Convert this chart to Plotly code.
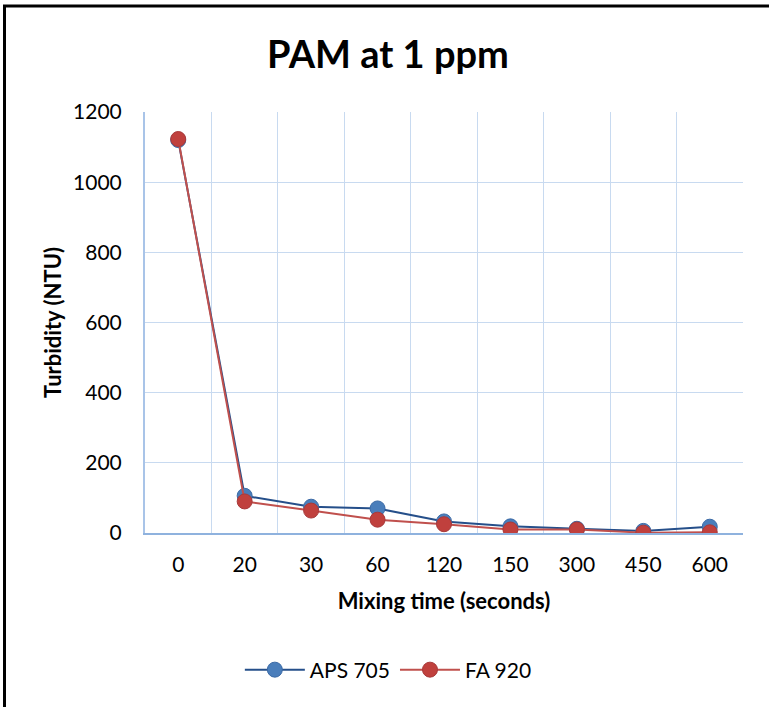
import plotly.graph_objects as go

categories = ["0", "20", "30", "60", "120", "150", "300", "450", "600"]
aps_705 = [1120, 106, 75, 70, 33, 19, 12, 6, 18]
fa_920 = [1123, 90, 64, 38, 25, 10, 10, 1, 2]
y_ticks = [0, 200, 400, 600, 800, 1000, 1200]

FONT = "Lato, Carlito, Calibri, sans-serif"
GRID = "#c8daf0"

fig = go.Figure()
fig.add_trace(go.Scatter(
    x=categories, y=aps_705, name="APS 705", mode="lines+markers",
    line=dict(color="#254f8a", width=2),
    marker=dict(size=15, color="#4a7ebb", line=dict(color="#3b6aa6", width=1)),
))
fig.add_trace(go.Scatter(
    x=categories, y=fa_920, name="FA 920", mode="lines+markers",
    line=dict(color="#c0504d", width=2),
    marker=dict(size=15, color="#c0403d", line=dict(color="#a8393a", width=1)),
))

fig.update_layout(
    width=769, height=707,
    margin=dict(l=145, r=26, t=112, b=174),
    paper_bgcolor="white", plot_bgcolor="white",
    font=dict(family=FONT, size=20, color="black"),
    title=dict(text="<b>PAM at 1 ppm</b>", x=1 - 381 / 769, xref="container", xanchor="center",
               y=1 - 55 / 707, yref="container", yanchor="middle",
               font=dict(family=FONT, size=38, color="black")),
    showlegend=True,
    legend=dict(orientation="h", xref="container", yref="container",
                x=0.505, xanchor="center", y=1 - 670 / 707, yanchor="middle",
                font=dict(family=FONT, size=21), itemwidth=60, tracegroupgap=0),
    xaxis=dict(
        type="category", categoryorder="array", categoryarray=categories,
        range=[-0.5, len(categories) - 0.5],
        tickson="boundaries", showgrid=True, gridcolor=GRID, gridwidth=1,
        showline=True, linecolor="#8fb2de", linewidth=2,
        ticks="", ticklabelstandoff=12,
        tickfont=dict(family=FONT, size=21),
        title=dict(text="<b>Mixing time (seconds)</b>", standoff=18,
                   font=dict(family=FONT, size=22)),
        zeroline=False,
    ),
    yaxis=dict(
        range=[0, 1200], tickvals=y_ticks,
        showgrid=True, gridcolor=GRID, gridwidth=1,
        showline=True, linecolor="#a9c4e8", linewidth=2,
        ticks="", ticklabelstandoff=17,
        tickfont=dict(family=FONT, size=21),
        title=dict(text="<b>Turbidity (NTU)</b>", standoff=5,
                   font=dict(family=FONT, size=22)),
        zeroline=False,
    ),
)

# outer chart border (left and top edges visible)
fig.add_shape(type="rect", xref="paper", yref="paper",
              x0=(4.5 - 145) / 598, x1=2.0,
              y0=-2.0, y1=(533 - 6) / 421,
              line=dict(color="black", width=3), layer="below")

fig.write_html("out.html")
